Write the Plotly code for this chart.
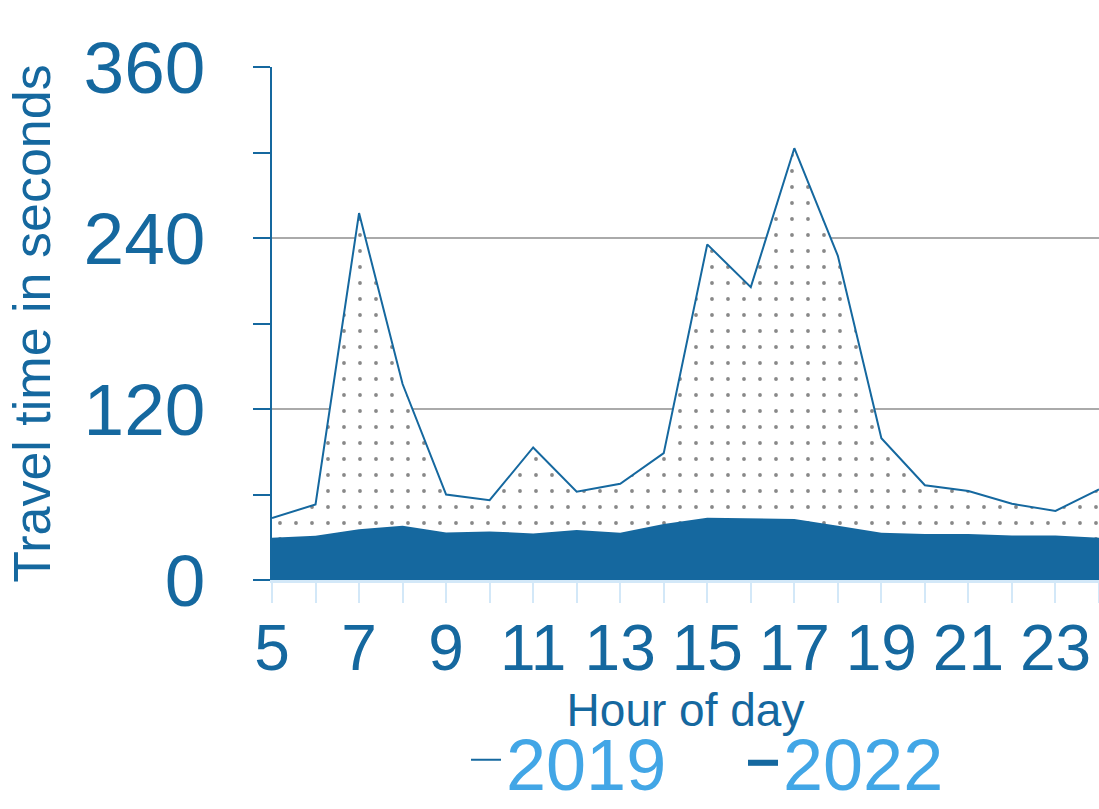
import plotly.graph_objects as go

hours = list(range(5, 25))
travel_2019 = [43.5, 53, 257.5, 137.5, 60, 56, 93, 62, 67.5, 89, 235.5, 205.5,
               303, 227.5, 99.5, 66.5, 62.5, 53.5, 48.5, 63.5]
travel_2022 = [29.7, 31, 35.6, 38.1, 33.4, 34.1, 32.7, 35.1, 33.2, 39.3, 43.7, 43.3,
               42.8, 38.1, 33.2, 32.3, 32.3, 31.3, 31.3, 29.7]
x_tick_vals = list(range(5, 25))
x_tick_text = [str(h) if h % 2 == 1 else "" for h in x_tick_vals]
y_tick_vals = [0, 120, 240, 360]
y_minor_vals = [60, 180, 300]

DARK = "#15689f"
LIGHT_TXT = "#42a6e6"
LIGHT_AX = "#d3e8f8"
FONT = "Liberation Sans, Arial, sans-serif"

fig = go.Figure()
fig.add_trace(go.Scatter(
    x=hours, y=travel_2019, name="2019", mode="lines",
    line=dict(color=DARK, width=2),
    fill="tozeroy", fillcolor="white",
    fillpattern=dict(shape=".", fgcolor="#111111", bgcolor="white", size=16, solidity=0.045),
))
fig.add_trace(go.Scatter(
    x=hours, y=travel_2022, name="2022", mode="lines",
    line=dict(color=DARK, width=0),
    fill="tozeroy", fillcolor=DARK,
))

fig.update_layout(
    width=1099, height=809,
    margin=dict(l=272, r=0, t=67, b=229, autoexpand=False),
    paper_bgcolor="white", plot_bgcolor="white",
    font=dict(family=FONT, color=DARK),
    showlegend=True,
    legend=dict(orientation="h", x=0.2346, xanchor="left", y=-0.2505, yanchor="top",
                font=dict(size=72, color=LIGHT_TXT), itemwidth=30,
                entrywidth=232, entrywidthmode="pixels",
                traceorder="normal", bgcolor="rgba(0,0,0,0)"),
    xaxis=dict(
        range=[5, 24], tickmode="array", tickvals=x_tick_vals, ticktext=x_tick_text,
        ticks="outside", ticklen=20, tickwidth=2, tickcolor=LIGHT_AX,
        showline=True, linecolor=LIGHT_AX, linewidth=3,
        showgrid=False, zeroline=False, automargin=False,
        tickfont=dict(size=64, color=DARK), ticklabelstandoff=-10,
        title=dict(text="Hour of day", font=dict(size=46, color=DARK), standoff=9),
    ),
    yaxis=dict(
        range=[0, 360], tickmode="array", tickvals=y_tick_vals,
        ticks="outside", ticklen=17, tickwidth=2, tickcolor=DARK,
        minor=dict(tickmode="array", tickvals=y_minor_vals, ticks="outside", ticklen=17,
                   tickwidth=2, tickcolor=DARK, showgrid=False),
        showline=True, linecolor=DARK, linewidth=2,
        showgrid=True, gridcolor="#aaaaaa", gridwidth=2, zeroline=False, automargin=False,
        tickfont=dict(size=73, color=DARK), ticklabelstandoff=33,
        title=dict(text="Travel time in seconds", font=dict(size=52, color=DARK), standoff=16),
    ),
)

fig.write_html(
    "out.html",
    config={"displayModeBar": False},
    post_script="document.body.style.margin='0';document.body.style.overflow='hidden';",
)
